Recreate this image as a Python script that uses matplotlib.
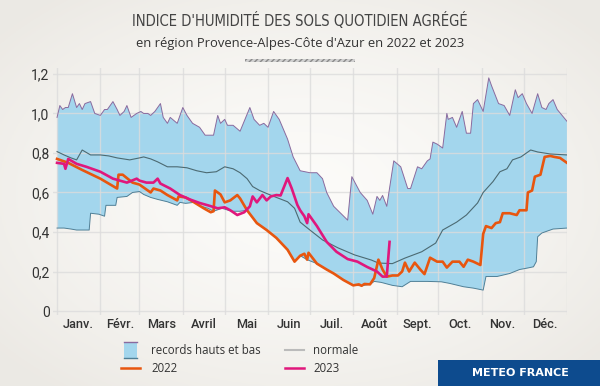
import numpy as np
import matplotlib.pyplot as plt
from matplotlib.patches import Rectangle
from matplotlib.lines import Line2D

# ==========================
# Data (day of year, value)
# ==========================
upper_days = [0, 2, 4, 6, 8, 11, 14, 16, 18, 20, 24, 27, 31, 34, 36, 40, 43, 45, 48, 50,
              53, 57, 60, 62, 65, 67, 70, 74, 76, 79, 81, 86, 90, 93, 97, 102, 106, 112, 115, 117,
              120, 122, 126, 131, 138, 141, 145, 148, 151, 155, 159, 165, 169, 174, 181, 186, 190, 193, 198, 208,
              211, 217, 222, 226, 229, 231, 233, 236, 241, 246, 251, 253, 258, 261, 265, 267, 269, 272, 276, 279,
              280, 283, 286, 290, 293, 296, 298, 301, 305, 309, 311, 316, 320, 324, 328, 330, 333, 336, 340, 344,
              347, 350, 352, 355, 358, 365]
upper_vals = [0.98, 1.04, 1.02, 1.03, 1.03, 1.10, 1.03, 1.05, 1.02, 1.05, 1.06, 1.00, 0.99, 1.02, 1.02, 1.06, 1.02, 0.99, 1.01, 1.04,
              0.98, 1.00, 1.01, 1.00, 1.00, 0.99, 1.01, 1.05, 0.98, 0.95, 0.98, 0.95, 1.03, 0.99, 0.95, 0.93, 0.89, 0.89, 0.99, 0.95,
              0.97, 0.94, 0.94, 0.91, 1.03, 0.97, 0.94, 0.95, 0.93, 1.01, 0.97, 0.87, 0.78, 0.71, 0.70, 0.70, 0.67, 0.60, 0.53, 0.46,
              0.68, 0.60, 0.56, 0.49, 0.58, 0.56, 0.585, 0.53, 0.76, 0.73, 0.62, 0.62, 0.73, 0.72, 0.76, 0.77, 0.855, 0.845, 0.825, 1.00,
              0.97, 0.98, 0.93, 1.01, 0.90, 0.90, 1.05, 1.07, 1.01, 1.18, 1.14, 1.05, 1.04, 0.99, 1.12, 1.08, 1.10, 1.05, 1.00, 1.10,
              1.03, 1.02, 1.05, 1.07, 1.02, 0.96]

lower_days = [0, 5, 10, 14, 23, 24, 30, 34, 35, 42, 43, 50, 54, 59, 62, 67, 72, 79, 86, 88,
              92, 98, 103, 108, 112, 118, 125, 131, 136, 143, 150, 157, 165, 170, 174, 179, 186, 193, 198, 205,
              212, 218, 224, 227, 232, 240, 247, 253, 265, 275, 281, 291, 298, 305, 307, 315, 324, 331, 337, 341,
              343, 344, 347, 355, 365]
lower_vals = [0.42, 0.42, 0.415, 0.41, 0.41, 0.495, 0.49, 0.48, 0.535, 0.535, 0.575, 0.58, 0.60, 0.605, 0.59, 0.575, 0.565, 0.553, 0.535, 0.55,
              0.545, 0.55, 0.53, 0.52, 0.505, 0.52, 0.505, 0.505, 0.51, 0.445, 0.41, 0.37, 0.31, 0.25, 0.28, 0.26, 0.24, 0.21, 0.19, 0.157,
              0.13, 0.128, 0.135, 0.15, 0.145, 0.13, 0.123, 0.15, 0.15, 0.148, 0.14, 0.123, 0.116, 0.106, 0.175, 0.175, 0.19, 0.21, 0.218, 0.224,
              0.25, 0.376, 0.395, 0.415, 0.42]

normal_days = [0, 5, 10, 14, 18, 24, 31, 37, 43, 52, 59, 62, 67, 72, 79, 86, 93, 100, 107, 114,
               120, 126, 131, 136, 140, 145, 150, 157, 165, 170, 174, 178, 181, 190, 201, 213, 225, 230, 240, 249,
               261, 271, 276, 286, 293, 301, 305, 312, 317, 322, 326, 332, 339, 344, 353, 365]
normal_vals = [0.807, 0.79, 0.775, 0.765, 0.815, 0.79, 0.79, 0.785, 0.775, 0.765, 0.775, 0.78, 0.77, 0.755, 0.73, 0.73, 0.725, 0.71, 0.70, 0.705,
               0.73, 0.72, 0.70, 0.67, 0.63, 0.61, 0.595, 0.575, 0.553, 0.52, 0.45, 0.427, 0.41, 0.36, 0.32, 0.284, 0.258, 0.243, 0.24, 0.268,
               0.30, 0.344, 0.41, 0.45, 0.486, 0.547, 0.60, 0.655, 0.705, 0.72, 0.765, 0.78, 0.815, 0.805, 0.795, 0.79]

y2022_days = [0, 8, 18, 31, 43, 44, 47, 54, 59, 67, 69, 74, 79, 86, 87, 92, 97, 105, 110, 112,
              113, 117, 120, 124, 129, 131, 136, 143, 150, 157, 165, 170, 172, 174, 177, 179, 180, 186, 193, 198,
              205, 212, 216, 218, 220, 224, 227, 230, 233, 236, 240, 244, 247, 249, 252, 256, 260, 263, 267, 272,
              276, 279, 283, 288, 291, 294, 298, 303, 305, 307, 311, 314, 317, 319, 324, 329, 331, 336, 337, 340,
              342, 346, 349, 353, 356, 360, 365]
y2022_vals = [0.77, 0.75, 0.714, 0.67, 0.62, 0.69, 0.69, 0.65, 0.64, 0.60, 0.62, 0.61, 0.587, 0.56, 0.58, 0.575, 0.555, 0.52, 0.50, 0.505,
              0.61, 0.59, 0.55, 0.56, 0.587, 0.57, 0.51, 0.445, 0.41, 0.37, 0.31, 0.25, 0.265, 0.28, 0.29, 0.26, 0.295, 0.24, 0.21, 0.19,
              0.157, 0.13, 0.135, 0.128, 0.137, 0.135, 0.167, 0.26, 0.21, 0.174, 0.18, 0.18, 0.20, 0.245, 0.20, 0.245, 0.21, 0.187, 0.27, 0.25,
              0.25, 0.22, 0.25, 0.25, 0.224, 0.26, 0.25, 0.233, 0.39, 0.43, 0.42, 0.445, 0.45, 0.495, 0.495, 0.486, 0.51, 0.51, 0.60, 0.61,
              0.68, 0.69, 0.78, 0.785, 0.78, 0.775, 0.75]

y2023_days = [0, 5, 6, 8, 14, 21, 31, 40, 50, 57, 59, 64, 69, 72, 74, 81, 88, 95, 102, 108,
              115, 120, 124, 129, 134, 138, 140, 143, 147, 150, 153, 157, 160, 165, 168, 172, 174, 177, 179, 180,
              186, 193, 200, 208, 215, 222, 229, 233, 236, 238]
y2023_vals = [0.75, 0.745, 0.72, 0.77, 0.745, 0.73, 0.705, 0.67, 0.65, 0.67, 0.66, 0.65, 0.65, 0.67, 0.645, 0.62, 0.587, 0.565, 0.547, 0.535,
              0.52, 0.525, 0.51, 0.486, 0.50, 0.53, 0.58, 0.55, 0.587, 0.56, 0.58, 0.587, 0.585, 0.673, 0.62, 0.537, 0.51, 0.48, 0.445, 0.49,
              0.43, 0.35, 0.30, 0.263, 0.25, 0.223, 0.20, 0.174, 0.175, 0.35]

month_starts = [0, 31, 59, 90, 120, 151, 181, 212, 243, 273, 304, 334, 365]
month_labels = ["Janv.", "Févr.", "Mars", "Avril", "Mai", "Juin",
                "Juil.", "Août", "Sept.", "Oct.", "Nov.", "Déc."]

# ==========================
# Figure + background
# ==========================
W, H = 600, 386
fig = plt.figure(figsize=(W / 100, H / 100), dpi=100)

def fx(px):
    return px / W

def fy(py):
    return 1 - py / H

gx, gy = np.meshgrid(np.linspace(-1, 1, 300), np.linspace(-1, 1, 200))
r = np.clip(np.sqrt(gx ** 2 + gy ** 2) / 1.3, 0, 1)
c0 = np.array([0.988, 0.985, 0.976])
c1 = np.array([0.925, 0.915, 0.895])
grad = c0 + (c1 - c0) * r[..., None] ** 1.5
bg = fig.add_axes([0, 0, 1, 1], zorder=-1)
bg.imshow(grad, extent=[0, 1, 0, 1], aspect="auto")
bg.axis("off")

# ==========================
# Main chart
# ==========================
ax = fig.add_axes([fx(53), fy(315), fx(567) - fx(53), fy(68) - fy(315)])
ax.set_facecolor("none")

ax.fill(np.r_[upper_days, lower_days[::-1]], np.r_[upper_vals, lower_vals[::-1]],
        color="#a3d6ed", lw=0, zorder=1)
ax.plot(upper_days, upper_vals, color="#8a6a9e", lw=0.7, zorder=2)
ax.plot(lower_days, lower_vals, color="#4f7f96", lw=0.7, zorder=2)
ax.plot(normal_days, normal_vals, color="#4c6a72", lw=0.8, zorder=3)
ax.plot(y2022_days, y2022_vals, color="#e8560f", lw=1.9, zorder=4)
ax.plot(y2023_days, y2023_vals, color="#e0177c", lw=1.9, zorder=5)

ax.set_xlim(-2.9, 365)
ax.set_ylim(-0.02, 1.23)
ax.set_axisbelow("line")

ax.set_yticks(np.arange(0, 1.21, 0.2))
ax.set_yticklabels(["0", "0,2", "0,4", "0,6", "0,8", "1,0", "1,2"])
ax.set_xticks(month_starts)
ax.set_xticklabels([""] * len(month_starts))
mid = [(month_starts[i] + month_starts[i + 1]) / 2 for i in range(12)]
ax.set_xticks(mid, minor=True)
ax.set_xticklabels(month_labels, minor=True)

ax.grid(True, which="major", color="#dcdcdc", lw=1.0, alpha=0.8)
ax.tick_params(axis="both", which="both", length=0, colors="#333333")
ax.tick_params(axis="y", pad=2.5, labelsize=10)
ax.tick_params(axis="x", which="minor", pad=2.5, labelsize=9.2)
for lab in ax.get_yticklabels() + ax.get_xticklabels(minor=True):
    lab.set_fontfamily("Roboto")
for lab in ax.get_xticklabels(minor=True):
    lab.set_fontweight("medium")
for s in ax.spines.values():
    s.set_visible(False)

# ==========================
# Titles
# ==========================
fig.text(0.5, fy(20), "INDICE D'HUMIDITÉ DES SOLS QUOTIDIEN AGRÉGÉ", ha="center", va="center",
         fontsize=10.6, color="#444444", family="DejaVu Sans", stretch="condensed")
fig.text(0.5, fy(44), "en région Provence-Alpes-Côte d'Azur en 2022 et 2023", ha="center", va="center",
         fontsize=9.4, color="#333333", family="Open Sans")
fig.patches.append(Rectangle((fx(245), fy(62)), fx(355) - fx(245), fy(59) - fy(62),
                             transform=fig.transFigure, facecolor="#d0d0d0", edgecolor="#8a8a8a",
                             hatch="//////", lw=0))

# ==========================
# Legend (drawn by hand)
# ==========================
fig.patches.append(Rectangle((fx(124), fy(358)), fx(137) - fx(124), fy(342) - fy(358),
                             transform=fig.transFigure, facecolor="#a3d6ed", lw=0))
fig.lines.append(Line2D([fx(124), fx(137)], [fy(342), fy(342)], transform=fig.transFigure, color="#8a6a9e", lw=1))
fig.lines.append(Line2D([fx(124), fx(137)], [fy(358), fy(358)], transform=fig.transFigure, color="#4f7f96", lw=1))
fig.lines.append(Line2D([fx(121), fx(140)], [fy(368), fy(368)], transform=fig.transFigure, color="#e8560f", lw=1.8))
fig.lines.append(Line2D([fx(285), fx(304)], [fy(350), fy(350)], transform=fig.transFigure, color="#bbbbbb", lw=1.5))
fig.lines.append(Line2D([fx(285), fx(304)], [fy(368), fy(368)], transform=fig.transFigure, color="#e0177c", lw=1.8))
leg_kw = dict(va="center", ha="left", fontsize=8.3, color="#333333", family="Open Sans")
fig.text(fx(151), fy(350), "records hauts et bas", **leg_kw)
fig.text(fx(151), fy(368), "2022", **leg_kw)
fig.text(fx(313), fy(350), "normale", **leg_kw)
fig.text(fx(313), fy(368), "2023", **leg_kw)

# ==========================
# Logo box
# ==========================
fig.patches.append(Rectangle((fx(438), 0), 1 - fx(438), fy(360), transform=fig.transFigure,
                             facecolor="#0d4b8e", lw=0))
fig.text(fx(520), fy(373), "METEO FRANCE", ha="center", va="center", fontsize=8,
         color="white", weight="bold", family="DejaVu Sans")

plt.savefig("out.png", dpi=100)
plt.close()
